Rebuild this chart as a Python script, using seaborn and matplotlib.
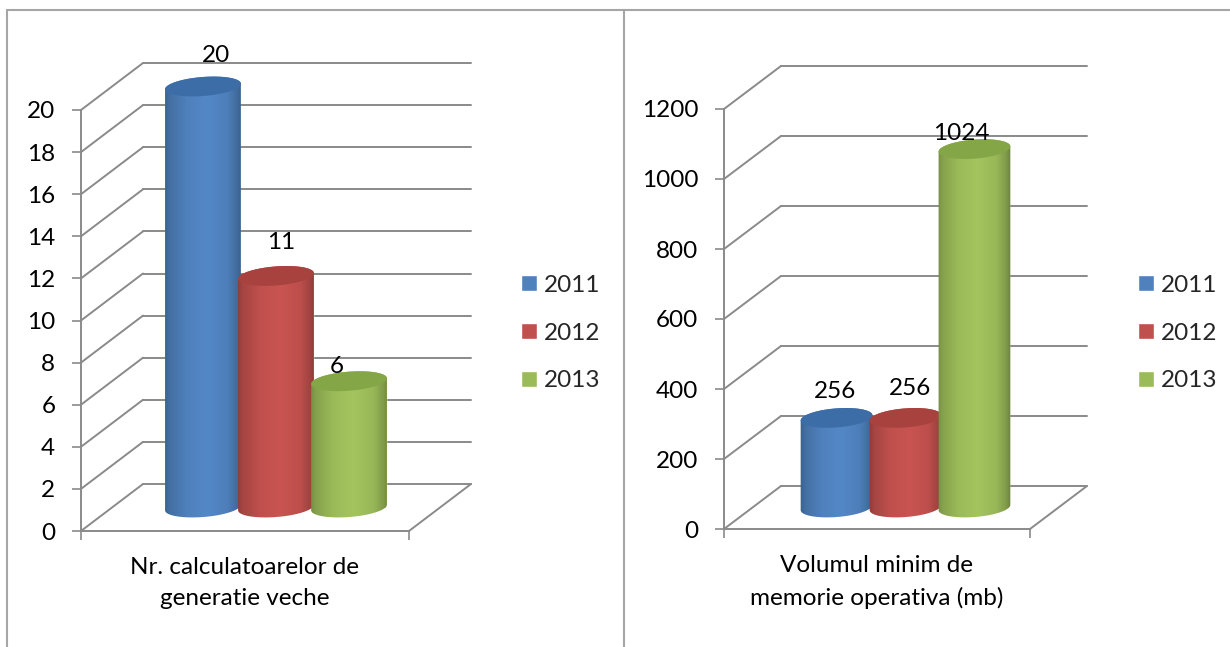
import numpy as np
import pandas as pd
import seaborn as sns
import matplotlib
matplotlib.use("Agg")
import matplotlib.pyplot as plt
from matplotlib.lines import Line2D
from matplotlib.path import Path
from matplotlib.transforms import Affine2D, IdentityTransform
from matplotlib.colors import to_rgb

# data
years = ["2011", "2012", "2013"]
left_category = "Nr. calculatoarelor de\ngeneratie veche"
left_values = [20, 11, 6]
left_ticks = [0, 2, 4, 6, 8, 10, 12, 14, 16, 18, 20]
right_category = "Volumul minim de\nmemorie operativa (mb)"
right_values = [256, 256, 1024]
right_ticks = [0, 200, 400, 600, 800, 1000, 1200]

colors = ["#4F81BD", "#C0504D", "#9BBB59"]
caps = ["#3C6DA6", "#A8423F", "#85A647"]
axis_color = "#8A8A8A"
border_color = "#A6A6A6"
font_size = 17.5

W, H = 1230, 647

sns.set_style("white")
plt.rcParams["font.family"] = ["Lato", "DejaVu Sans"]

fig = plt.figure(figsize=(W / 100, H / 100), dpi=100)


def ellipse(cx, cy, rx, ry, t):
    # tilted ellipse, right side a bit higher than the left
    tilt = np.radians(4.5)
    x = rx * np.cos(t)
    y = ry * np.sin(t)
    return np.column_stack([cx + x * np.cos(tilt) - y * np.sin(tilt),
                            cy + x * np.sin(tilt) + y * np.cos(tilt)])


def draw_cylinder(ax, bar, shift, color, cap, pad, order):
    x0, y0 = (ax.transData + shift).transform((bar.get_x(), 0))
    x1, y1 = (ax.transData + shift).transform((bar.get_x() + bar.get_width(), bar.get_height()))
    cx = (x0 + x1) / 2
    rx = (x1 - x0) / 2 + pad
    ry = 9.5

    # body outline: lower half of the base, then upper half of the top
    low = ellipse(cx, y0, rx, ry, np.linspace(np.pi, 2 * np.pi, 60))
    high = ellipse(cx, y1, rx, ry, np.linspace(0, np.pi, 60))
    outline = np.vstack([low, high, low[:1]])
    body = Path(outline)

    # horizontal shading of the cylinder
    stops = [0, 0.08, 0.3, 0.55, 0.8, 0.93, 1]
    gains = [0.72, 0.86, 1.0, 1.05, 0.98, 0.82, 0.66]
    gain = np.interp(np.linspace(0, 1, 128), stops, gains)
    grad = np.clip(np.outer(gain, to_rgb(color)), 0, 1)[None, :, :]
    im = ax.imshow(grad, extent=(cx - rx - 2, cx + rx + 2, y0 - ry - 8, y1 + ry + 8),
                   transform=IdentityTransform(), aspect="auto", zorder=3 + order,
                   interpolation="bilinear")
    # the image has to reach above the axes box
    im.set_clip_box(fig.bbox)
    im.set_clip_path(body, IdentityTransform())

    top = ellipse(cx, y1, rx, ry, np.linspace(0, 2 * np.pi, 80))
    ax.fill(top[:, 0], top[:, 1], color=cap, transform=IdentityTransform(),
            zorder=3 + order, clip_on=False, lw=0)
    return cx, y1


def draw_panel(box, depth, category, values, ticks, label_moves, legend_at, spread):
    left, top, right, bottom = box
    ax = fig.add_axes([left / W, 1 - bottom / H, (right - left) / W, (bottom - top) / H])
    ax.patch.set_visible(False)

    df = pd.DataFrame({"cat": [category] * len(years), "year": years, "val": values})
    sns.barplot(data=df, x="cat", y="val", hue="year", palette=colors, saturation=1,
                width=spread, gap=0, ax=ax, zorder=2)

    ax.set_autoscale_on(False)
    ax.set_xlim(-0.5, 0.5)
    ax.set_ylim(ticks[0], ticks[-1])
    ax.set_xlabel("")
    ax.set_ylabel("")

    # back wall and side wall lines
    back = ax.transData + Affine2D().translate(depth[0], depth[1])
    for t in ticks:
        ax.plot([-0.5, 0.5], [t, t], color=axis_color, lw=1.4, transform=back,
                clip_on=False, zorder=1)
        p0 = ax.transData.transform((-0.5, t))
        ax.plot([p0[0], p0[0] + depth[0]], [p0[1], p0[1] + depth[1]], color=axis_color,
                lw=1.4, transform=IdentityTransform(), clip_on=False, zorder=1)
    p1 = ax.transData.transform((0.5, ticks[0]))
    ax.plot([p1[0], p1[0] + depth[0]], [p1[1], p1[1] + depth[1]], color=axis_color,
            lw=1.4, transform=IdentityTransform(), clip_on=False, zorder=1)

    # bars stand halfway into the floor
    shift = Affine2D().translate(depth[0] / 2, depth[1] / 2)
    for i, container in enumerate(ax.containers):
        bar = container[0]
        bar.set_transform(ax.transData + shift)
        bar.set_clip_on(False)
        cx, cy = draw_cylinder(ax, bar, shift, colors[i], caps[i], 1.5, i)
        ax.annotate(str(values[i]), xy=(cx, cy), xycoords=IdentityTransform(),
                    xytext=label_moves[i], textcoords="offset pixels", ha="center", va="center",
                    fontsize=font_size, color="black", zorder=10, annotation_clip=False)

    # axis looks
    sns.despine(ax=ax)
    for side in ["left", "bottom"]:
        ax.spines[side].set_color(axis_color)
        ax.spines[side].set_linewidth(1.4)
    ax.set_yticks(ticks)
    ax.set_xticks([-0.5, 0.5], labels=["", ""])
    ax.set_xticks([0], labels=[category], minor=True)
    ax.tick_params(axis="y", left=True, length=6.5, width=1.2, color=axis_color,
                   pad=12, labelsize=font_size, labelcolor="black")
    ax.tick_params(axis="x", which="major", bottom=True, length=6.5, width=1.2, color=axis_color)
    ax.tick_params(axis="x", which="minor", bottom=False, length=0, pad=18.5,
                   labelsize=font_size, labelcolor="black")
    for lab in ax.get_xticklabels(minor=True):
        lab.set_linespacing(1.62)

    sns.move_legend(ax, "upper left", bbox_to_anchor=(legend_at[0] / W, 1 - legend_at[1] / H),
                    bbox_transform=fig.transFigure, title=None, frameon=False, fontsize=font_size,
                    handlelength=0.64, handleheight=0.64, handletextpad=0.3,
                    labelspacing=1.1, borderpad=0, borderaxespad=0)
    return ax


draw_panel((81, 110, 409, 531), (62, 47), left_category, left_values, left_ticks,
           [(13, 31), (5, 33), (-12, 15)], (521, 275), 0.668)
draw_panel((724, 109, 1030, 529), (57, 43), right_category, right_values, right_ticks,
           [(-2, 26), (4, 29), (-13, 16)], (1138, 275), 0.676)

# table borders behind the charts
for xs, ys in [((7, 1230), (10, 10)), ((7, 7), (10, 647)), ((624, 624), (10, 647))]:
    fig.add_artist(Line2D([x / W for x in xs], [1 - y / H for y in ys],
                          color=border_color, lw=1.5, transform=fig.transFigure))

fig.savefig("out.png", dpi=100)
